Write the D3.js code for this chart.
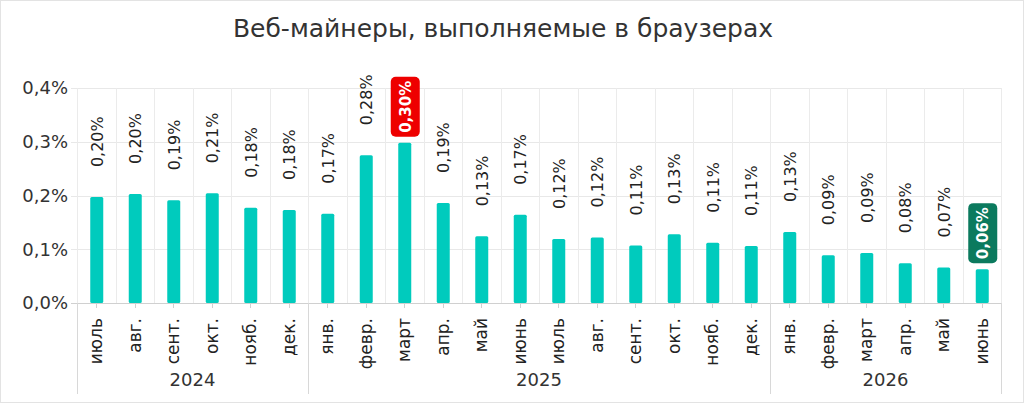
<!DOCTYPE html>
<html>
<head>
<meta charset="utf-8">
<script src="https://cdn.jsdelivr.net/npm/d3@7"></script>
<style>
  body { margin: 0; background: #fff; }
  svg { display: block; font-family: "DejaVu Sans", "Noto Sans", sans-serif; }
</style>
</head>
<body>
<div id="chart"></div>
<script>
// data
var months = ["июль","авг.","сент.","окт.","нояб.","дек.",
              "янв.","февр.","март","апр.","май","июнь","июль","авг.","сент.","окт.","нояб.","дек.",
              "янв.","февр.","март","апр.","май","июнь"];
var years = ["2024","2025","2026"];
var yearOf = [0,0,0,0,0,0, 1,1,1,1,1,1,1,1,1,1,1,1, 2,2,2,2,2,2];
var values = [0.197,0.203,0.191,0.204,0.177,0.173,
              0.166,0.275,0.298,0.186,0.124,0.164,0.119,0.122,0.107,0.128,0.112,0.106,
              0.132,0.089,0.093,0.074,0.066,0.063];
var labels = ["0,20%","0,20%","0,19%","0,21%","0,18%","0,18%",
              "0,17%","0,28%","0,30%","0,19%","0,13%","0,17%","0,12%","0,12%","0,11%","0,13%","0,11%","0,11%",
              "0,13%","0,09%","0,09%","0,08%","0,07%","0,06%"];
var highlight = {8: "#ee0000", 23: "#0b7a5e"};
var yTicks = [0, 0.1, 0.2, 0.3, 0.4];

var W = 1024, H = 403;
var mLeft = 77, mRight = 1001, mTop = 88, mBottom = 303;

var svg = d3.select("#chart").append("svg")
    .attr("width", W).attr("height", H);

// outer border
svg.append("rect")
    .attr("x", 0.5).attr("y", 0.5)
    .attr("width", W - 1).attr("height", H - 1)
    .attr("fill", "none").attr("stroke", "#e3e3e3");

svg.append("text")
    .attr("x", 503).attr("y", 37)
    .attr("text-anchor", "middle")
    .attr("font-size", 25)
    .attr("fill", "#333")
    .text("Веб-майнеры, выполняемые в браузерах");

var x = d3.scaleBand().domain(d3.range(months.length)).range([mLeft, mRight]).padding(0);
var y = d3.scaleLinear().domain([0, 0.4]).range([mBottom, mTop]);

// horizontal grid
svg.append("g").selectAll("line").data(yTicks).enter().append("line")
    .attr("x1", mLeft - 6).attr("x2", mRight)
    .attr("y1", function(d){ return Math.round(y(d)) + 0.5; })
    .attr("y2", function(d){ return Math.round(y(d)) + 0.5; })
    .attr("stroke", function(d){ return d === 0 ? "#d0d0d0" : "#e8e8e8"; });

// vertical grid between categories
svg.append("g").selectAll("line").data(d3.range(months.length + 1)).enter().append("line")
    .attr("x1", function(i){ return Math.round(mLeft + i * x.step()) + 0.5; })
    .attr("x2", function(i){ return Math.round(mLeft + i * x.step()) + 0.5; })
    .attr("y1", mTop).attr("y2", mBottom)
    .attr("stroke", "#ebebeb");

// y axis labels
svg.append("g").selectAll("text").data(yTicks).enter().append("text")
    .attr("x", 68).attr("y", function(d){ return y(d); })
    .attr("dy", "0.35em")
    .attr("text-anchor", "end")
    .attr("font-size", 18)
    .attr("fill", "#333")
    .text(function(d){ return d3.format(".1f")(d).replace(".", ",") + "%"; });

// bars
svg.append("g").selectAll("rect").data(values).enter().append("rect")
    .attr("x", function(d, i){ return x(i) + x.bandwidth() / 2 - 6; })
    .attr("width", 13)
    .attr("y", function(d){ return y(d); })
    .attr("height", function(d){ return mBottom - y(d); })
    .attr("rx", 1.5)
    .attr("fill", "#00cbbd");

// value labels
var lab = svg.append("g").selectAll("g").data(values).enter().append("g")
    .attr("transform", function(d, i){ return "translate(" + (x(i) + x.bandwidth() / 2 + 1) + "," + y(d) + ")"; });

lab.each(function(d, i){
    var g = d3.select(this);
    if (highlight[i]) {
        g.append("rect")
            .attr("x", -14.5).attr("y", -66)
            .attr("width", 29).attr("height", 60)
            .attr("rx", 5)
            .attr("fill", highlight[i]);
        g.append("text")
            .attr("transform", "translate(0,-36) rotate(-90)")
            .attr("text-anchor", "middle")
            .attr("dy", "0.35em")
            .attr("font-size", 15)
            .attr("font-weight", "bold")
            .attr("fill", "#fff")
            .text(labels[i]);
    } else {
        g.append("text")
            .attr("transform", "translate(0,-30) rotate(-90)")
            .attr("text-anchor", "start")
            .attr("dy", "0.35em")
            .attr("font-size", 16)
            .attr("fill", "#222")
            .text(labels[i]);
    }
});

// month ticks
svg.append("g").selectAll("line").data(months).enter().append("line")
    .attr("x1", function(d, i){ return Math.round(x(i) + x.bandwidth() / 2) + 0.5; })
    .attr("x2", function(d, i){ return Math.round(x(i) + x.bandwidth() / 2) + 0.5; })
    .attr("y1", mBottom).attr("y2", mBottom + 5)
    .attr("stroke", "#d0d0d0");

// month labels
svg.append("g").selectAll("text").data(months).enter().append("text")
    .attr("transform", function(d, i){ return "translate(" + (x(i) + x.bandwidth() / 2) + "," + (mBottom + 15) + ") rotate(-90)"; })
    .attr("text-anchor", "end")
    .attr("dy", "0.35em")
    .attr("font-size", 17)
    .attr("fill", "#222")
    .text(function(d){ return d; });

// year groups
var yearSpans = years.map(function(yr, k){
    var idx = d3.range(months.length).filter(function(i){ return yearOf[i] === k; });
    return { name: yr, x0: x(idx[0]), x1: x(idx[idx.length - 1]) + x.step() };
});

var sepX = [mLeft].concat(yearSpans.map(function(s){ return s.x1; }));
svg.append("g").selectAll("line").data(sepX).enter().append("line")
    .attr("x1", function(d){ return Math.round(d) + 0.5; })
    .attr("x2", function(d){ return Math.round(d) + 0.5; })
    .attr("y1", mBottom).attr("y2", 394)
    .attr("stroke", "#d8d8d8");

svg.append("g").selectAll("text").data(yearSpans).enter().append("text")
    .attr("x", function(s){ return (s.x0 + s.x1) / 2; })
    .attr("y", 386)
    .attr("text-anchor", "middle")
    .attr("font-size", 18)
    .attr("fill", "#333")
    .text(function(s){ return s.name; });
</script>
</body>
</html>
